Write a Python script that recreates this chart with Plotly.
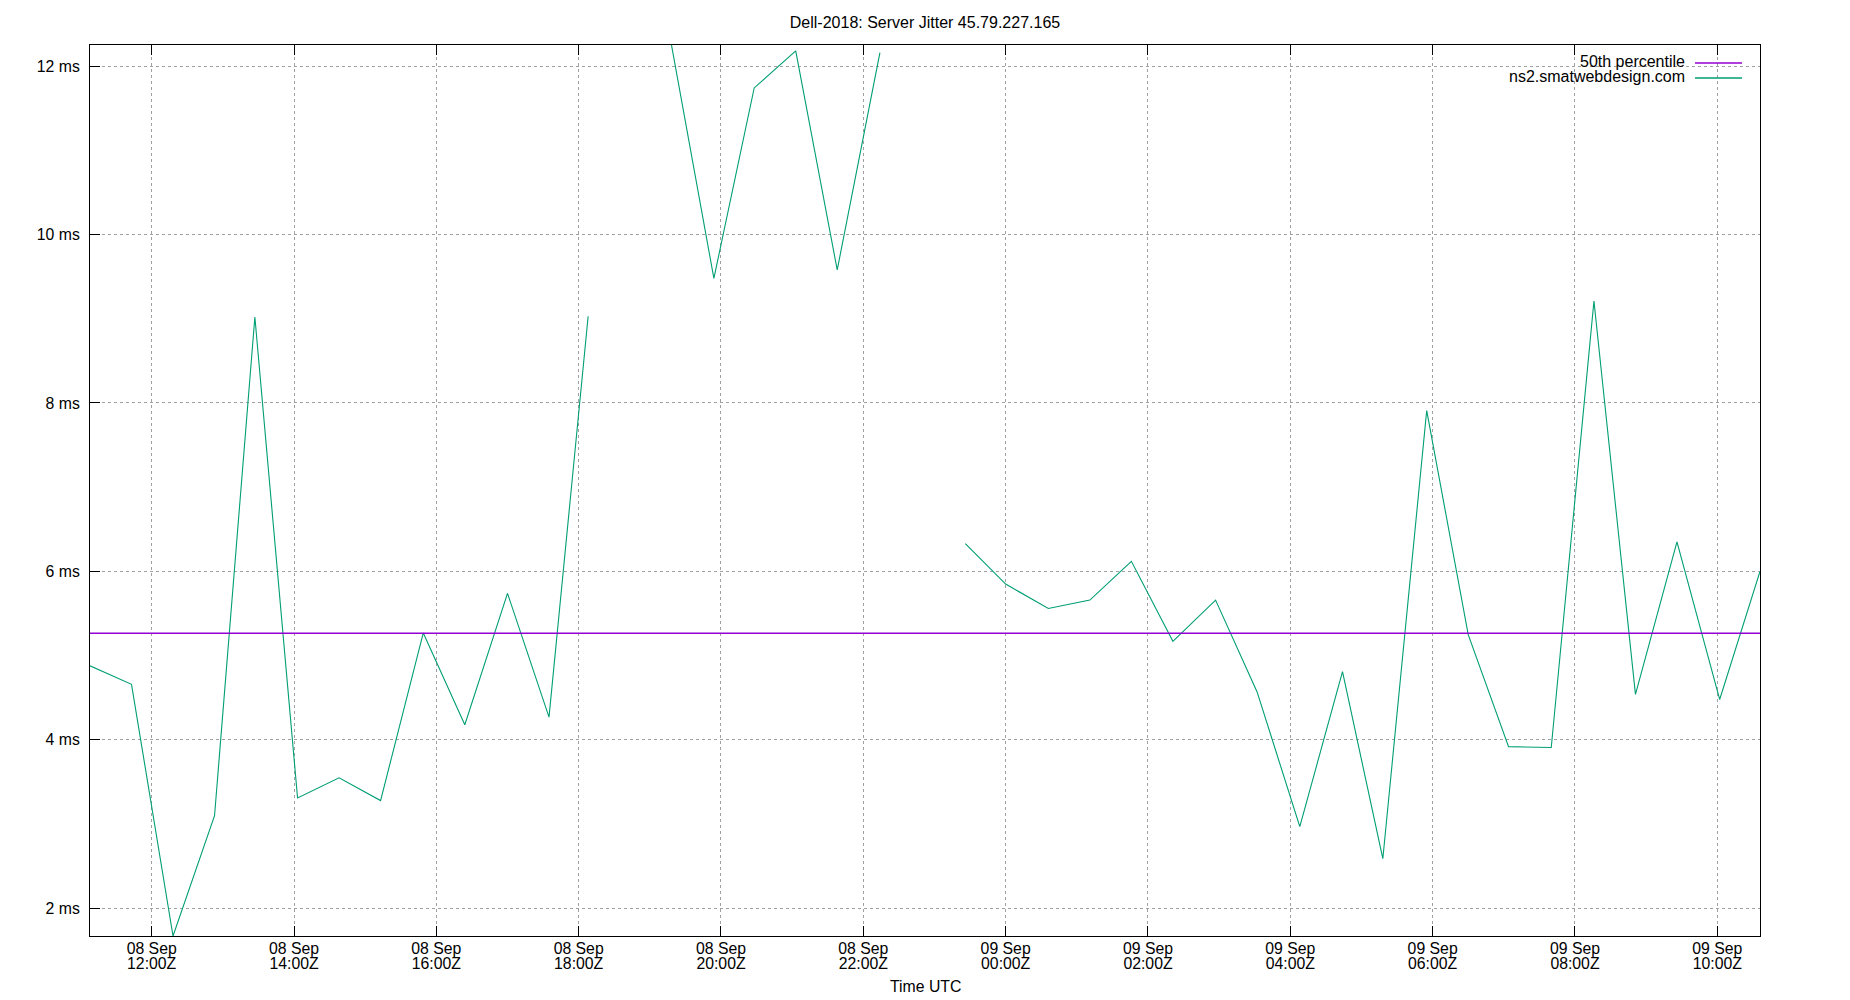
import plotly.graph_objects as go

# ---------------- data ----------------
times = [
    "2018-09-08 11:08", "2018-09-08 11:43", "2018-09-08 12:18", "2018-09-08 12:53",
    "2018-09-08 13:27", "2018-09-08 14:03", "2018-09-08 14:38", "2018-09-08 15:13",
    "2018-09-08 15:49", "2018-09-08 16:24", "2018-09-08 17:00", "2018-09-08 17:35",
    "2018-09-08 18:08", "2018-09-08 18:43", "2018-09-08 19:18", "2018-09-08 19:54",
    "2018-09-08 20:28", "2018-09-08 21:03", "2018-09-08 21:38", "2018-09-08 22:14",
    "2018-09-08 22:50", "2018-09-08 23:26", "2018-09-09 00:00", "2018-09-09 00:36",
    "2018-09-09 01:11", "2018-09-09 01:46", "2018-09-09 02:21", "2018-09-09 02:57",
    "2018-09-09 03:32", "2018-09-09 04:08", "2018-09-09 04:44", "2018-09-09 05:18",
    "2018-09-09 05:55", "2018-09-09 06:30", "2018-09-09 07:04", "2018-09-09 07:40",
    "2018-09-09 08:16", "2018-09-09 08:51", "2018-09-09 09:26", "2018-09-09 10:02",
    "2018-09-09 10:36",
]
jitter_ms = [
    4.88, 4.66, 1.672, 3.10, 9.02, 3.31, 3.55, 3.28, 5.27, 4.18, 5.74, 4.27, 9.03,
    None, 12.27, 9.48, 11.74, 12.18, 9.58, 12.16,
    None, 6.33, 5.85, 5.56, 5.66, 6.12, 5.17, 5.66, 4.57, 2.97, 4.81, 2.59,
    7.91, 5.25, 3.92, 3.91, 9.21, 4.54, 6.35, 4.48, 6.00,
]
p50_ms = 5.266

series_names = ["50th percentile", "ns2.smatwebdesign.com"]
series_colors = ["#9400d3", "#009e73"]

x_tickvals = [
    "2018-09-08 12:00", "2018-09-08 14:00", "2018-09-08 16:00", "2018-09-08 18:00",
    "2018-09-08 20:00", "2018-09-08 22:00", "2018-09-09 00:00", "2018-09-09 02:00",
    "2018-09-09 04:00", "2018-09-09 06:00", "2018-09-09 08:00", "2018-09-09 10:00",
]
x_day_labels = ["08 Sep"] * 6 + ["09 Sep"] * 6
x_hour_labels = ["12:00Z", "14:00Z", "16:00Z", "18:00Z", "20:00Z", "22:00Z",
                 "00:00Z", "02:00Z", "04:00Z", "06:00Z", "08:00Z", "10:00Z"]
y_tickvals = [2, 4, 6, 8, 10, 12]
y_ticktext = ["2 ms", "4 ms", "6 ms", "8 ms", "10 ms", "12 ms"]
y_range = [1.672, 12.25]

title_text = "Dell-2018: Server Jitter 45.79.227.165"
x_title = "Time UTC"

# ---------------- layout geometry ----------------
OFF = 8                      # default page body margin in the browser
W, H = 1850 - OFF, 1000 - OFF
ML, MT = 90 - OFF, 45 - OFF
PW, PH = 1670, 891
MR, MB = W - ML - PW, H - MT - PH
FONT = "Liberation Sans, Arial, sans-serif"
FS = 16
FS_TICK = 15.8


def px_x(px):
    """page pixel x -> paper coordinate"""
    return (px - OFF - ML) / PW


def px_y(py):
    """page pixel y -> paper coordinate"""
    return (OFF + MT + PH - py) / PH


fig = go.Figure()

fig.add_trace(go.Scatter(
    x=[times[0], times[-1]], y=[p50_ms, p50_ms], mode="lines",
    line=dict(color=series_colors[0], width=1.3), name=series_names[0],
    xaxis="x2", showlegend=False, hoverinfo="skip",
))
fig.add_trace(go.Scatter(
    x=times, y=jitter_ms, mode="lines", connectgaps=False,
    line=dict(color=series_colors[1], width=1.1), name=series_names[1],
    showlegend=False,
))

grid = dict(showgrid=True, gridcolor="#a0a0a0", gridwidth=1, griddash="3px,3px")

fig.update_layout(
    width=W, height=H,
    margin=dict(l=ML, r=MR, t=MT, b=MB, pad=0),
    paper_bgcolor="white", plot_bgcolor="white",
    font=dict(family=FONT, size=FS_TICK, color="black"),
    showlegend=False,
    title=dict(text=title_text, x=(925 - OFF) / W, xanchor="center",
               y=1 - (22 - OFF) / H, yanchor="middle", yref="container",
               font=dict(family=FONT, size=FS, color="black")),
    xaxis=dict(
        type="date", range=[times[0], times[-1]],
        tickmode="array", tickvals=x_tickvals, ticktext=x_day_labels,
        ticks="inside", ticklen=10, tickwidth=1, tickcolor="black",
        showline=True, linecolor="black", linewidth=1, mirror="ticks",
        zeroline=False, ticklabelstandoff=-2, **grid,
    ),
    xaxis2=dict(
        type="date", overlaying="x", matches="x", anchor="y", side="bottom",
        range=[times[0], times[-1]],
        tickmode="array", tickvals=x_tickvals, ticktext=x_hour_labels,
        ticks="", showline=False, showgrid=False, zeroline=False,
        ticklabelstandoff=16,
    ),
    yaxis=dict(
        range=y_range, tickmode="array", tickvals=y_tickvals, ticktext=y_ticktext,
        ticks="inside", ticklen=10, tickwidth=1, tickcolor="black",
        showline=True, linecolor="black", linewidth=1, mirror=True,
        zeroline=False, ticklabelstandoff=6, **grid,
    ),
)

# x axis title
fig.add_annotation(text=x_title, xref="paper", yref="paper", x=0.5, y=px_y(986.5),
                   xanchor="center", yanchor="middle", showarrow=False,
                   font=dict(family=FONT, size=FS_TICK, color="black"))

# gnuplot-style key (text on the left, sample on the right)
fig.add_shape(type="rect", xref="paper", yref="paper", layer="between",
              x0=px_x(1496), x1=px_x(1751), y0=px_y(48), y1=px_y(88),
              fillcolor="white", line=dict(width=0))
key_rows_y = [61.5, 76.5]
for name, color, ky in zip(series_names, series_colors, key_rows_y):
    fig.add_annotation(text=name, xref="paper", yref="paper", x=px_x(1686), y=px_y(ky),
                       xanchor="right", yanchor="middle", showarrow=False, borderpad=0,
                       font=dict(family=FONT, size=FS, color="black"))
    fig.add_shape(type="line", xref="paper", yref="paper",
                  x0=px_x(1695), x1=px_x(1742), y0=px_y(ky + 1.5), y1=px_y(ky + 1.5),
                  line=dict(color=color, width=1.3))

fig.write_html("out.html")
